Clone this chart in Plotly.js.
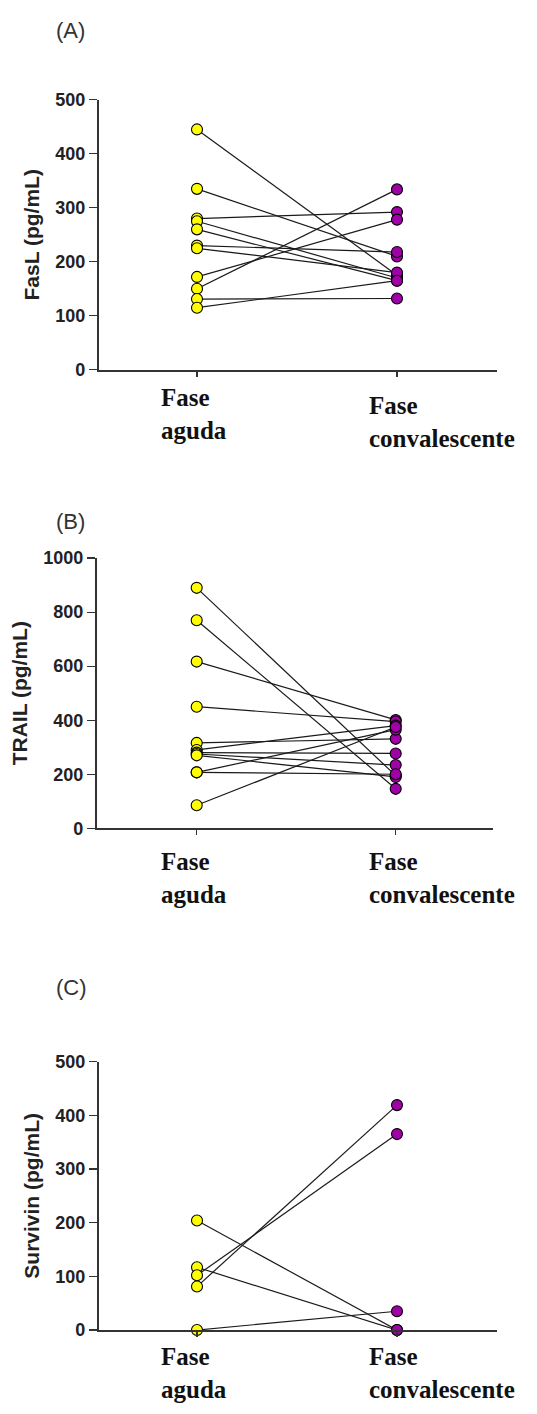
<!DOCTYPE html>
<html>
<head>
<meta charset="utf-8">
<script src="https://cdn.plot.ly/plotly-3.0.1.min.js"></script>
<style>html,body{margin:0;padding:0;background:#fff;}#chart{width:537px;height:1414px;}</style>
</head>
<body>
<div id="chart"></div>
<script>
// ---- data ----
var categories = ["Fase<br>aguda", "Fase<br>convalescente"];
var panelLabels = ["(A)", "(B)", "(C)"];
var yTitles = ["FasL (pg/mL)", "TRAIL (pg/mL)", "Survivin (pg/mL)"];

var faslAguda = [445, 335, 280, 275, 260, 230, 225, 172, 150, 131, 115];
var faslConv  = [175, 210, 292, 170, 165, 218, 180, 278, 334, 132, 165];

var trailAguda = [890, 770, 617, 450, 316, 290, 280, 275, 270, 207, 207, 85];
var trailConv  = [195, 146, 401, 395, 331, 380, 277, 234, 190, 365, 200, 375];

var survAguda = [204, 117, 102, 81, 0];
var survConv  = [0, 0, 365, 419, 35];

var yTickVals = [[0,100,200,300,400,500],[0,200,400,600,800,1000],[0,100,200,300,400,500]];
var yRanges = [[0,500],[0,1000],[0,500]];

// ---- layout geometry ----
var W = 537, H = 1414;
var panels = [
  {ag: faslAguda, cv: faslConv, top: 91, bot: 365, left: 98.7, right: 497, t0: 197, t1: 397},
  {ag: trailAguda, cv: trailConv, top: 556, bot: 830, left: 96.7, right: 493, t0: 196.7, t1: 395.7},
  {ag: survAguda, cv: survConv, top: 1066.7, bot: 1339, left: 98.7, right: 497, t0: 197, t1: 397}
];
var labelY = [21, 519, 992];
var catGap = [[18, 26], [24, 24], [17, 17]];

var yellow = "#FFFF00", purple = "#A000A8";
var traces = [];
var layout = {
  width: W, height: H,
  margin: {l: 0, r: 0, t: 0, b: 0},
  paper_bgcolor: "#fff", plot_bgcolor: "#fff",
  showlegend: false,
  annotations: []
};

panels.forEach(function (p, k) {
  var xa = k === 0 ? "x" : "x" + (k + 1);
  var ya = k === 0 ? "y" : "y" + (k + 1);
  var xk = k === 0 ? "xaxis" : "xaxis" + (k + 1);
  var yk = k === 0 ? "yaxis" : "yaxis" + (k + 1);
  var ppu = p.t1 - p.t0;
  // connecting lines
  for (var i = 0; i < p.ag.length; i++) {
    traces.push({x: [0, 1], y: [p.ag[i], p.cv[i]], xaxis: xa, yaxis: ya, mode: "lines",
      line: {color: "#1a1a1a", width: 1.2}, hoverinfo: "skip", cliponaxis: false});
  }
  traces.push({x: p.ag.map(function(){return 0;}), y: p.ag, xaxis: xa, yaxis: ya, mode: "markers",
    marker: {color: yellow, size: 11, line: {color: "#000", width: 1.1}}, cliponaxis: false});
  traces.push({x: p.cv.map(function(){return 1;}), y: p.cv, xaxis: xa, yaxis: ya, mode: "markers",
    marker: {color: purple, size: 11, line: {color: "#000", width: 1.1}}, cliponaxis: false});

  layout[xk] = {
    domain: [p.left / W, p.right / W],
    range: [(p.left - p.t0) / ppu, (p.right - p.t0) / ppu],
    anchor: ya, tickvals: [0, 1], ticktext: ["", ""],
    showline: true, linecolor: "#333", linewidth: 1.8,
    ticks: "outside", ticklen: 5, tickwidth: 1.3, tickcolor: "#333",
    showgrid: false, zeroline: false, fixedrange: true
  };
  layout[yk] = {
    domain: [(H - p.bot) / H, (H - p.top) / H],
    range: yRanges[k], anchor: xa, tickvals: yTickVals[k],
    showline: true, linecolor: "#333", linewidth: 1.8,
    ticks: "outside", ticklen: 8, tickwidth: 1.3, tickcolor: "#333",
    tickfont: {family: "Liberation Sans, Arial, sans-serif", size: 18, color: "#222", weight: "bold"},
    showgrid: false, zeroline: false, fixedrange: true, automargin: true,
    title: {text: "<b>" + yTitles[k] + "</b>", standoff: 10,
      font: {family: "Liberation Sans, Arial, sans-serif", size: 21, color: "#222"}}
  };
  // panel label
  layout.annotations.push({text: panelLabels[k], xref: "paper", yref: "paper",
    x: 54 / W, y: (H - labelY[k]) / H, xanchor: "left", yanchor: "middle", showarrow: false,
    font: {family: "Liberation Sans, Arial, sans-serif", size: 22, color: "#333"}});
  // category labels
  var shifts = [159 - p.t0, 367 - p.t1];
  categories.forEach(function (c, j) {
    layout.annotations.push({text: "<b>" + c + "</b>", xref: xa, yref: "paper",
      x: j, y: (H - p.bot) / H, xanchor: "left", yanchor: "top", align: "left",
      xshift: shifts[j], yshift: -(catGap[k][j] - 6), showarrow: false,
      font: {family: "Liberation Serif, Times New Roman, serif", size: 25, color: "#111"}});
  });
});

Plotly.newPlot("chart", traces, layout, {staticPlot: true});
</script>
</body>
</html>
